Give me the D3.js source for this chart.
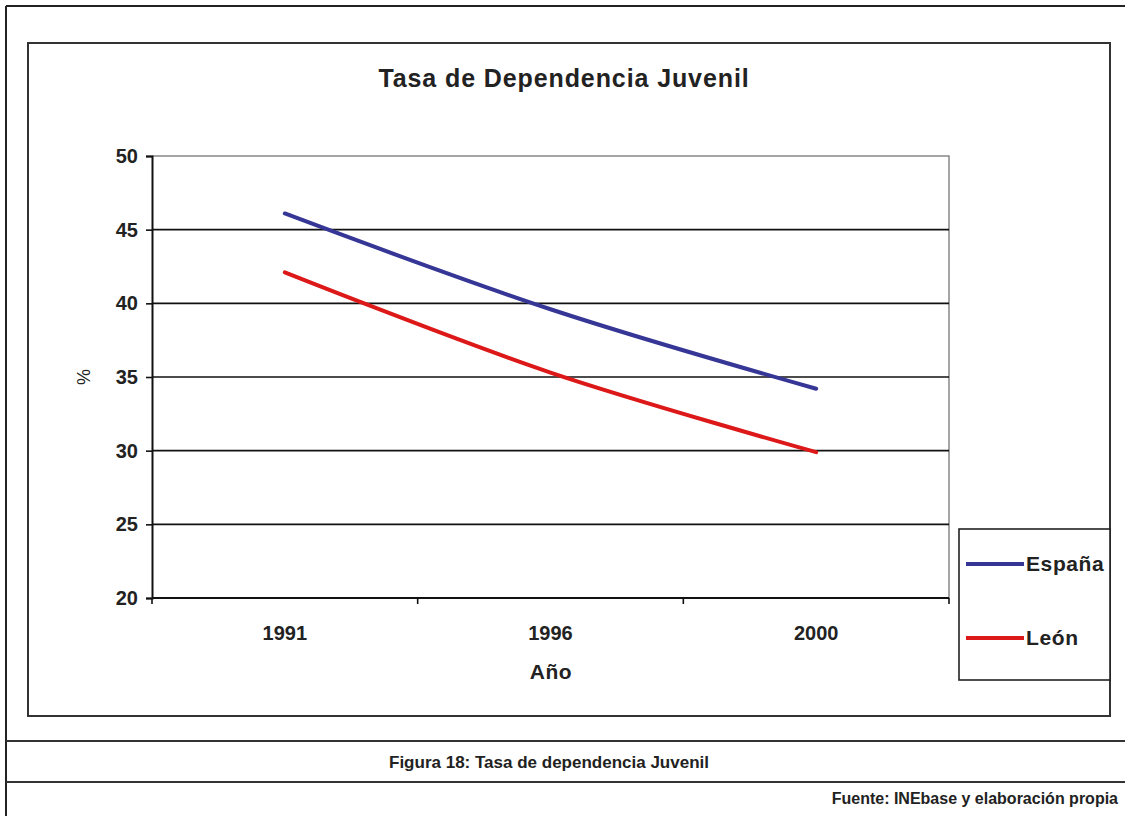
<!DOCTYPE html>
<html>
<head>
<meta charset="utf-8">
<script src="https://cdn.jsdelivr.net/npm/d3@7"></script>
<style>
  body { margin: 0; background: #fff; }
  text { font-family: "Liberation Sans", Arial, sans-serif; fill: #222; }
</style>
</head>
<body>
<div id="chart"></div>
<script>
// data
const years = ["1991", "1996", "2000"];
const espana = [46.1, 39.6, 34.2];
const leon = [42.1, 35.3, 29.9];
const yTicks = [20, 25, 30, 35, 40, 45, 50];
const seriesNames = ["España", "León"];
const seriesColors = ["#363696", "#dd1818"];

const W = 1125, H = 816;
const svg = d3.select("#chart").append("svg")
    .attr("width", W).attr("height", H);

// page frame
svg.append("line").attr("x1", 6).attr("x2", W).attr("y1", 6).attr("y2", 6)
    .attr("stroke", "#222").attr("stroke-width", 2);
svg.append("line").attr("x1", 6).attr("x2", 6).attr("y1", 6).attr("y2", H)
    .attr("stroke", "#222").attr("stroke-width", 2);
[741, 782].forEach(y => {
    svg.append("line").attr("x1", 6).attr("x2", W).attr("y1", y).attr("y2", y)
        .attr("stroke", "#333").attr("stroke-width", 2);
});

// chart area frame
svg.append("rect").attr("x", 28).attr("y", 43).attr("width", 1082).attr("height", 673)
    .attr("fill", "none").attr("stroke", "#333").attr("stroke-width", 2);

const m = {left: 152, top: 156, right: 949, bottom: 598};

const x = d3.scaleBand().domain(years).range([m.left, m.right]);
const y = d3.scaleLinear().domain([20, 50]).range([m.bottom, m.top]);

// plot border (top/right gray)
svg.append("path")
    .attr("d", `M${m.left},${m.top}H${m.right}V${m.bottom}`)
    .attr("fill", "none").attr("stroke", "#888").attr("stroke-width", 1.5);

// gridlines
svg.append("g").selectAll("line").data(yTicks.filter(d => d > 20 && d < 50)).join("line")
    .attr("x1", m.left).attr("x2", m.right)
    .attr("y1", d => y(d)).attr("y2", d => y(d))
    .attr("stroke", "#111").attr("stroke-width", 1.6);

// y axis
const yAxis = svg.append("g").attr("transform", `translate(${m.left},0)`)
    .call(d3.axisLeft(y).tickValues(yTicks).tickSize(6).tickPadding(8));
yAxis.select(".domain").attr("stroke", "#111").attr("stroke-width", 2);
yAxis.selectAll(".tick line").attr("stroke", "#111").attr("stroke-width", 1.6);
yAxis.selectAll(".tick text").attr("font-size", 20).attr("font-weight", "bold")
    .attr("font-family", "Liberation Sans, Arial, sans-serif").attr("fill", "#222");

// x axis: ticks at category boundaries
const xAxis = svg.append("g").attr("transform", `translate(0,${m.bottom})`);
xAxis.append("line").attr("x1", m.left).attr("x2", m.right).attr("y1", 0).attr("y2", 0)
    .attr("stroke", "#111").attr("stroke-width", 2);
const bounds = years.map(d => x(d)).concat([m.right]);
xAxis.selectAll("line.tk").data(bounds).join("line").attr("class", "tk")
    .attr("x1", d => d).attr("x2", d => d).attr("y1", 0).attr("y2", 6)
    .attr("stroke", "#111").attr("stroke-width", 1.6);
xAxis.selectAll("text").data(years).join("text")
    .attr("x", d => x(d) + x.bandwidth() / 2).attr("y", 42)
    .attr("text-anchor", "middle").attr("font-size", 20).attr("font-weight", "bold")
    .text(d => d);

// titles
svg.append("text").attr("x", 564).attr("y", 87).attr("text-anchor", "middle")
    .attr("font-size", 25).attr("font-weight", "bold").attr("fill", "#2a2a2a")
    .attr("letter-spacing", 0.9)
    .text("Tasa de Dependencia Juvenil");
svg.append("text").attr("x", 551).attr("y", 679).attr("text-anchor", "middle")
    .attr("font-size", 21).attr("font-weight", "bold").attr("letter-spacing", 0.5)
    .text("Año");
svg.append("text").attr("transform", "translate(90,377) rotate(-90)")
    .attr("text-anchor", "middle").attr("font-size", 18).attr("fill", "#444").text("%");

// lines
const line = d3.line()
    .x((d, i) => x(years[i]) + x.bandwidth() / 2)
    .y(d => y(d))
    .curve(d3.curveCatmullRom.alpha(0.5));
[espana, leon].forEach((s, i) => {
    svg.append("path").datum(s).attr("d", line)
        .attr("fill", "none").attr("stroke", seriesColors[i])
        .attr("stroke-width", 4).attr("stroke-linecap", "round");
});

// legend
const lg = svg.append("g");
lg.append("rect").attr("x", 959).attr("y", 529).attr("width", 151).attr("height", 151)
    .attr("fill", "#fff").attr("stroke", "#222").attr("stroke-width", 1.6);
seriesNames.forEach((n, i) => {
    const ly = 564 + i * 74;
    lg.append("line").attr("x1", 966).attr("x2", 1024).attr("y1", ly).attr("y2", ly)
        .attr("stroke", seriesColors[i]).attr("stroke-width", 4);
    lg.append("text").attr("x", 1026).attr("y", ly + 7).attr("font-size", 21)
        .attr("font-weight", "bold").attr("letter-spacing", 0.6).text(n);
});

// captions
svg.append("text").attr("x", 549).attr("y", 768).attr("text-anchor", "middle")
    .attr("font-size", 17).attr("font-weight", "bold").attr("fill", "#111")
    .text("Figura 18: Tasa de dependencia Juvenil");
svg.append("text").attr("x", 1118).attr("y", 804).attr("text-anchor", "end")
    .attr("font-size", 16).attr("font-weight", "bold").attr("fill", "#111")
    .text("Fuente: INEbase y elaboración propia");
</script>
</body>
</html>
